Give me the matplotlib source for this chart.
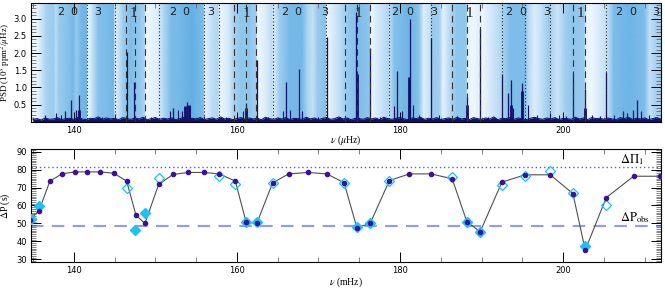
import numpy as np
import matplotlib
matplotlib.use('Agg')
import matplotlib.pyplot as plt
from matplotlib.colors import LinearSegmentedColormap
from matplotlib.ticker import MultipleLocator

plt.rcParams.update({
    'font.family': 'serif', 'font.serif': ['Liberation Serif', 'DejaVu Serif'],
    'mathtext.fontset': 'stix',
    'xtick.direction': 'in', 'ytick.direction': 'in',
    'xtick.top': True, 'ytick.right': True,
    'axes.linewidth': 0.8,
})

# ── Top panel data: power spectrum ───────────────────────────────────
XLIM = (134.75, 212.0)

# noise floor, sampled every 0.5 muHz from 135.0
noise_nu0, noise_step = 135.0, 0.5
noise = [
    0.06, 0.09, 0.05, 0.11, 0.07, 0.08, 0.12, 0.06, 0.09, 0.10,
    0.07, 0.13, 0.08, 0.06, 0.10, 0.09, 0.14, 0.07, 0.11, 0.08,
    0.10, 0.06, 0.12, 0.09, 0.07, 0.11, 0.08, 0.13, 0.06, 0.09,
    0.12, 0.07, 0.10, 0.08, 0.11, 0.06, 0.09, 0.13, 0.07, 0.10,
    0.08, 0.12, 0.06, 0.09, 0.11, 0.07, 0.14, 0.08, 0.10, 0.06,
    0.09, 0.12, 0.07, 0.11, 0.08, 0.10, 0.06, 0.13, 0.09, 0.07,
    0.11, 0.08, 0.12, 0.06, 0.10, 0.09, 0.07, 0.13, 0.08, 0.11,
    0.06, 0.10, 0.12, 0.07, 0.09, 0.14, 0.08, 0.11, 0.06, 0.10,
    0.09, 0.07, 0.12, 0.08, 0.11, 0.06, 0.13, 0.09, 0.07, 0.10,
    0.12, 0.08, 0.06, 0.11, 0.09, 0.13, 0.07, 0.10, 0.08, 0.12,
    0.06, 0.09, 0.11, 0.07, 0.13, 0.08, 0.10, 0.06, 0.12, 0.09,
    0.07, 0.11, 0.08, 0.14, 0.06, 0.10, 0.09, 0.12, 0.07, 0.11,
    0.08, 0.06, 0.10, 0.13, 0.09, 0.07, 0.11, 0.08, 0.12, 0.06,
    0.10, 0.09, 0.07, 0.13, 0.08, 0.11, 0.06, 0.12, 0.09, 0.10,
    0.07, 0.11, 0.08, 0.06, 0.12, 0.09, 0.13, 0.07, 0.10, 0.08,
    0.11, 0.06, 0.09, 0.12, 0.07,
]

peak_nu = [138.9, 139.61, 140.22, 140.66, 146.48, 147.41, 152.2, 153.84,
           161.12, 162.43, 166.02, 167.66, 171.09, 174.6, 176.33, 179.68,
           181.24, 183.78, 188.2, 189.83, 192.49, 193.18, 193.6, 194.94,
           201.15, 202.71, 205.3, 207.34, 208.56, 209.05]
peak_h = [0.30, 0.63, 0.35, 0.78, 2.04, 1.17, 0.40, 0.58,
          0.55, 1.80, 1.17, 1.53, 2.46, 3.20, 2.14, 1.49,
          3.00, 2.45, 0.73, 2.70, 1.40, 0.83, 1.22, 1.12,
          1.40, 0.95, 1.46, 0.30, 0.35, 0.63]

broad_nu = [153.6, 154.1, 161.1, 174.7, 181.1, 188.2, 193.6, 195.0, 202.7, 140.6]
broad_h = [0.45, 0.50, 0.40, 1.40, 1.30, 0.50, 0.50, 0.90, 0.40, 0.35]

small_nu = [136.5, 137.8, 138.4, 143.5, 145.0, 149.5, 151.8, 152.8, 153.3, 154.3,
            156.0, 158.6, 160.7, 163.8, 165.6, 166.5, 168.0, 170.0, 172.5, 177.5,
            179.3, 180.3, 181.6, 182.3, 184.8, 187.0, 190.8, 193.9, 195.7, 196.8,
            198.4, 199.5, 200.3, 203.6, 204.5, 206.2, 207.8, 209.5, 210.5, 211.3]
small_h = [0.20, 0.25, 0.20, 0.15, 0.22, 0.15, 0.30, 0.35, 0.30, 0.45,
           0.18, 0.15, 0.30, 0.15, 0.30, 0.35, 0.30, 0.15, 0.15, 0.15,
           0.45, 0.30, 0.50, 0.20, 0.20, 0.18, 0.15, 0.40, 0.50, 0.20,
           0.25, 0.20, 0.18, 0.20, 0.18, 0.20, 0.25, 0.30, 0.20, 0.15]

dotted_nu = [141.6, 145.0, 150.4, 156.0, 157.8, 164.4, 170.9, 178.6,
             183.8, 192.5, 195.3, 198.4, 205.3]
dashed_nu = [146.4, 147.5, 148.7, 159.7, 161.1, 162.4, 173.2, 174.7,
             176.3, 186.4, 188.2, 189.8, 201.2, 202.7]

mode_txt = ['2', '0', '3', '2', '0', '3', '2', '0', '3',
            '2', '0', '3', '2', '0', '3', '2', '0', '3']
mode_nu = [138.38, 140.01, 142.92, 152.07, 153.72, 156.79, 165.82, 167.46, 170.81,
           179.4, 181.15, 184.18, 193.3, 195.07, 197.93, 206.8, 208.52, 211.3]
one_nu = [147.29, 161.2, 174.9, 188.5, 202.1]

# background shading: (nu, level) control points, 0 = white, 1 = blue
bg_nu = [134.75, 135.6, 136.6, 137.5, 137.8, 138.2, 139.3, 139.9, 140.3, 140.9,
         141.6, 141.7, 142.3, 143.0, 144.6, 144.95, 145.05, 146.0, 147.0, 148.2,
         148.7, 148.8, 150.3, 150.45, 151.0, 151.9, 153.0, 154.5, 155.9, 156.05,
         157.0, 157.7, 157.85, 159.0, 159.6, 160.5, 161.5, 162.4, 162.5, 163.5,
         164.3, 164.45, 165.2, 166.5, 168.0, 168.6, 169.3, 169.9, 170.9, 171.0,
         172.7, 173.5, 175.0, 176.3, 176.4, 178.5, 178.7, 179.3, 181.0, 182.3,
         182.9, 183.7, 183.9, 184.8, 185.3, 186.3, 187.0, 188.1, 188.3, 189.0,
         189.8, 190.1, 192.4, 192.6, 193.5, 195.3, 195.7, 196.5, 197.5, 198.3,
         198.5, 199.3, 200.3, 201.2, 202.6, 202.8, 203.5, 205.2, 205.45, 206.2,
         208.0, 210.0, 210.6, 211.3, 212.0]
bg_lev = [0.05, 0.10, 0.45, 0.55, 0.35, 0.55, 0.65, 0.75, 0.55, 0.75,
          0.80, 0.05, 0.30, 0.65, 0.75, 0.75, 0.10, 0.50, 0.70, 0.55,
          0.45, 0.05, 0.15, 0.20, 0.40, 0.70, 0.75, 0.85, 0.70, 0.10,
          0.35, 0.40, 0.05, 0.20, 0.45, 0.60, 0.60, 0.50, 0.05, 0.15,
          0.35, 0.15, 0.50, 0.75, 0.75, 0.45, 0.30, 0.55, 0.65, 0.05,
          0.35, 0.55, 0.70, 0.60, 0.05, 0.40, 0.30, 0.65, 0.80, 0.65,
          0.15, 0.30, 0.55, 0.50, 0.10, 0.45, 0.60, 0.60, 0.10, 0.05,
          0.15, 0.05, 0.40, 0.45, 0.70, 0.70, 0.40, 0.15, 0.35, 0.55,
          0.45, 0.25, 0.50, 0.60, 0.55, 0.10, 0.05, 0.30, 0.30, 0.70,
          0.80, 0.70, 0.30, 0.45, 0.50]

# ── Bottom panel data: period spacings ───────────────────────────────
model_nu = [134.6, 135.72, 137.07, 138.54, 140.10, 141.61, 143.2, 144.88, 146.48,
            147.62, 148.72, 150.4, 152.16, 154.04, 155.96, 157.84, 159.8, 161.12,
            162.43, 164.39, 166.36, 168.72, 171.02, 173.14, 174.7, 176.33, 178.7,
            181.15, 183.78, 186.39, 188.2, 189.83, 192.49, 195.35, 198.42, 201.2,
            202.71, 205.29, 208.64, 211.91]
model_dp = [52.0, 57.0, 73.6, 77.6, 78.7, 78.7, 78.7, 78.0, 73.6,
            54.6, 50.0, 71.7, 77.3, 78.4, 78.4, 77.6, 73.6, 50.9,
            50.0, 72.7, 77.6, 78.4, 77.6, 72.7, 47.7, 50.0, 73.9,
            77.6, 77.6, 74.9, 50.9, 45.4, 73.0, 77.1, 77.1, 66.6,
            35.2, 64.4, 76.3, 76.3]

obs_fill_nu = [134.75, 135.72, 147.5, 148.72, 161.12, 162.5, 174.7, 176.33,
               188.2, 189.83, 202.71]
obs_fill_dp = [52.7, 59.7, 46.3, 55.9, 50.9, 50.9, 48.1, 50.3, 50.9, 45.4, 37.4]

obs_open_nu = [146.48, 150.4, 157.84, 159.8, 164.39, 173.14, 178.7, 186.39,
               192.49, 195.35, 198.42, 201.2, 205.29]
obs_open_dp = [69.9, 75.4, 76.3, 71.7, 72.7, 72.7, 73.6, 75.8,
               71.5, 76.7, 79.1, 67.1, 60.1]

DPI1 = 81.7
DPOBS = 48.7

NAVY = '#12126a'
CYAN = '#1cc3f2'
PURPLE = '#3a109e'

fig = plt.figure(figsize=(6.65, 2.88), dpi=100)
ax1 = fig.add_axes([31/665, 1-121.7/288, 630/665, 118.4/288])
ax2 = fig.add_axes([31/665, 1-261.7/288, 630/665, 112.4/288])

# ── Top panel ────────────────────────────────────────────────────────
cmap = LinearSegmentedColormap.from_list('bg', ['#f7fbff', '#4aa2e0'])
bgx = np.array([bg_nu, bg_nu])
bgy = np.array([[0.0] * len(bg_nu), [3.45] * len(bg_nu)])
bgc = np.array([bg_lev, bg_lev])
ax1.pcolormesh(bgx, bgy, bgc, shading='gouraud', cmap=cmap, vmin=0, vmax=1,
               zorder=0, rasterized=True)

noise_x = noise_nu0 + noise_step * np.arange(len(noise))
ax1.fill_between(noise_x, 0, noise, color=NAVY, lw=0, zorder=2)
ax1.plot(noise_x, noise, color=NAVY, lw=0.7, zorder=2)
ax1.vlines(small_nu, 0, small_h, color=NAVY, lw=0.8, zorder=3)
ax1.vlines(broad_nu, 0, broad_h, color=NAVY, lw=2.0, zorder=3)
ax1.vlines(peak_nu, 0, peak_h, color=NAVY, lw=0.9, zorder=3)

ax1.vlines(dotted_nu, 0, 3.45, color='#222222', lw=0.8, ls=(0, (1, 2)), zorder=4)
ax1.vlines(dashed_nu, 0, 3.45, color='#333333', lw=0.8, ls=(0, (6, 4)), zorder=4)

for t, n in zip(mode_txt, mode_nu):
    ax1.text(n, 3.2, t, ha='center', va='center', fontsize=8,
             family='DejaVu Sans', color='#222222', zorder=5)
for n in one_nu:
    ax1.text(n, 3.15, '1', ha='center', va='center', fontsize=11,
             color='#222222', zorder=5)

ax1.set_xlim(XLIM)
ax1.set_ylim(0, 3.45)
ax1.set_yticks([0.5, 1.0, 1.5, 2.0, 2.5, 3.0])
ax1.yaxis.set_minor_locator(MultipleLocator(0.1))
ax1.set_xticks([140, 160, 180, 200])
ax1.xaxis.set_minor_locator(MultipleLocator(5))
ax1.set_ylabel(r'PSD (10$^3$ ppm$^2$/$\mu$Hz)', fontsize=6.5)
ax1.set_xlabel(r'$\nu$ ($\mu$Hz)', fontsize=7)
ax1.yaxis.set_label_coords(-0.030, 0.5)
ax1.xaxis.set_label_coords(0.5, -0.10)

# ── Bottom panel ─────────────────────────────────────────────────────
ax2.axhline(DPI1, color='#5a5af0', lw=1.0, ls=(0, (1, 2)), zorder=1)
ax2.axhline(DPOBS, color='#8d9cf7', lw=1.5, ls=(0, (6, 4)), zorder=1)

ax2.plot(model_nu, model_dp, color='#505050', lw=0.8, zorder=2)
ax2.plot(model_nu, model_dp, ls='none', marker='o', ms=3.0, color=PURPLE, zorder=4)
ax2.plot(obs_fill_nu, obs_fill_dp, ls='none', marker='D', ms=5.5, color=CYAN,
         mec=CYAN, zorder=3)
ax2.plot(obs_open_nu, obs_open_dp, ls='none', marker='D', ms=5.5, mfc='none',
         mec=CYAN, mew=0.9, zorder=3)

ax2.text(207.0, 85.5, r'$\Delta\Pi_1$', fontsize=9, ha='left', va='center')
ax2.text(207.0, 53.5, r'$\Delta \mathrm{P}_{\rm obs}$', fontsize=9, ha='left',
         va='center')

ax2.set_xlim(XLIM)
ax2.set_ylim(28.7, 91.3)
ax2.set_yticks([30, 40, 50, 60, 70, 80, 90])
ax2.yaxis.set_minor_locator(MultipleLocator(1))
ax2.set_xticks([140, 160, 180, 200])
ax2.xaxis.set_minor_locator(MultipleLocator(5))
ax2.set_ylabel(r'$\Delta$P (s)', fontsize=7)
ax2.set_xlabel(r'$\nu$ (mHz)', fontsize=7)
ax2.yaxis.set_label_coords(-0.030, 0.5)
ax2.xaxis.set_label_coords(0.5, -0.12)

for ax in (ax1, ax2):
    ax.tick_params(which='major', length=7, width=0.7, labelsize=6, pad=3)
    ax.tick_params(which='minor', length=3.5, width=0.5, color='#555555')
    for lab in ax.get_xticklabels() + ax.get_yticklabels():
        lab.set_family('DejaVu Sans')
        lab.set_fontsize(6)

fig.savefig('out.png', dpi=100)
